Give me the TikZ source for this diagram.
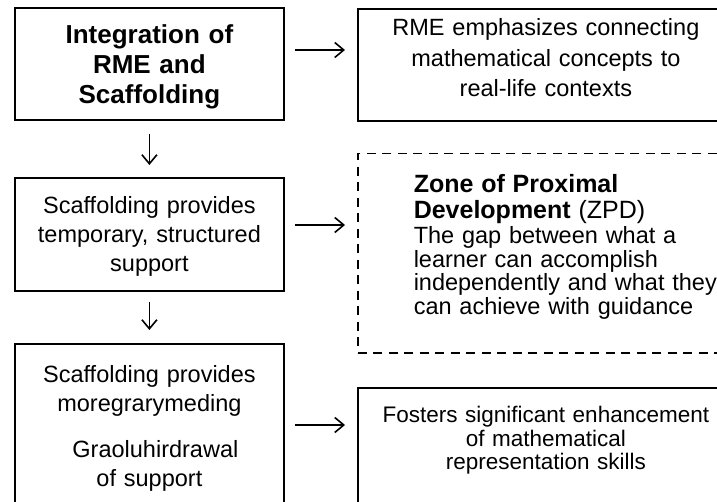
\documentclass[tikz,border=0pt]{standalone}
\usepackage{fontspec}
\setmainfont{Liberation Sans}
\usetikzlibrary{arrows.meta}

\begin{document}
\begin{tikzpicture}[x=1pt,y=-1pt,
		box/.style={draw, line width=1.8pt, anchor=north west, inner sep=0pt, align=center},
		zpdbox/.style={draw, line width=1.5pt, dash pattern=on 9pt off 6.5pt, anchor=north west, inner ysep=0pt, inner xsep=56pt, align=left},
		arr/.style={line width=1.6pt, -{Straight Barb[length=9pt,width=15pt,line width=1.6pt]}},
		bodytext/.style={font=\fontsize{23.5}{29}\selectfont}]
	\useasboundingbox (0,0) rectangle (717,502);
	\clip (0,0) rectangle (717,502);
	\node[box, text width=269pt, text height=36pt, text depth=76pt, font=\bfseries\fontsize{26}{30}\selectfont] (integ) at (14,7) {Integration of\\RME and\\Scaffolding};
	\node[box, bodytext, text width=376pt, text height=27pt, text depth=85pt, font=\fontsize{23.5}{30.5}\selectfont] (rme) at (357,8) {RME emphasizes connecting\\mathematical concepts to\\real-life contexts};
	\node[box, bodytext, text width=269pt, text height=36pt, text depth=77pt] (supp) at (14,177) {Scaffolding provides\\temporary, structured\\support};
	\node[zpdbox, text width=340pt, text height=39pt, text depth=160pt, font=\fontsize{23.5}{23.5}\selectfont] (zpd) at (357,153) {{\fontsize{25}{26}\selectfont\bfseries Zone of Proximal\\Development \mdseries(ZPD)\par}\vspace{1.5pt}The gap between what a\\learner can accomplish\\independently and what they\\can achieve with guidance};
	\node[box, bodytext, text width=269pt, text height=39pt, text depth=200pt] (withdraw) at (14,343) {Scaffolding provides\\moregrarymeding\\[17pt]\hspace*{12pt}Graoluhirdrawal\\of support};
	\node[box, text width=376pt, text height=35pt, text depth=200pt, font=\fontsize{22.5}{23.3}\selectfont] (skills) at (357,387) {Fosters significant enhancement\\of mathematical\\representation skills};
	\draw[arr] ([xshift=10pt,yshift=-43pt]integ.north east) -- ([xshift=-12pt,yshift=-43pt]integ.north east -| rme.west);
	\draw[arr] ([xshift=10pt,yshift=-48pt]supp.north east) -- ([xshift=-12pt,yshift=-48pt]supp.north east -| zpd.west);
	\draw[arr] ([xshift=10pt,yshift=-82pt]withdraw.north east) -- ([xshift=-12pt,yshift=-82pt]withdraw.north east -| skills.west);
	\draw[arr] ([yshift=-13pt]integ.south) -- ([yshift=12pt]supp.north);
	\draw[arr] ([yshift=-10pt]supp.south) -- ([yshift=13pt]withdraw.north);
\end{tikzpicture}
\end{document}
